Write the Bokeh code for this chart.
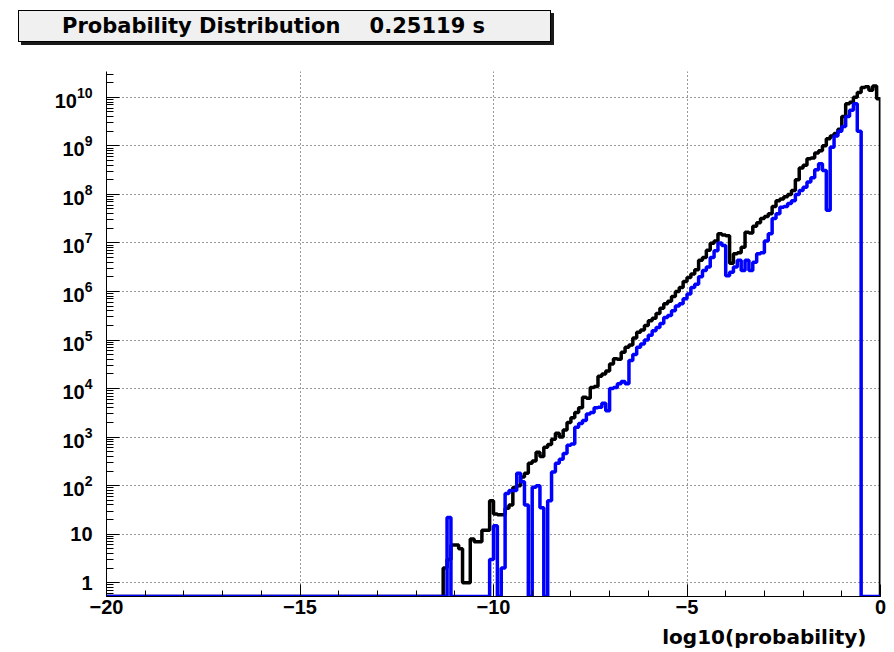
import numpy as np
from bokeh.plotting import figure
from bokeh.layouts import column
from bokeh.models import (Range1d, SingleIntervalTicker, FixedTicker, LogTickFormatter,
                          LinearAxis, Div)
from bokeh.embed import file_html
from bokeh.resources import INLINE

# ---------------- data ----------------
TITLE_MAIN = "Probability Distribution"
TITLE_TIME = "0.25119 s"
X_LABEL = "log10(probability)"

X_START = -20.0
BIN_WIDTH = 0.1
N_BINS = 200
Y_MIN = 0.52          # bottom of the log axis (empty bins drawn here)
Y_MAX = 3.4e10

# counts of the last bins (bins before these are empty)
black_counts = [
    2, 3, 6, 6, 5, 1, 1, 8, 7, 7, 12, 12, 49,
    26, 25, 25, 34, 40, 91, 100, 150, 180, 290,
    320, 490, 400, 620, 700, 900, 1200, 1000, 1400, 2000,
    2500, 3200, 4000, 6600, 6300, 1.05e4, 1.1e4, 1.8e4, 2.0e4, 2.3e4,
    3.2e4, 4.1e4, 4.0e4, 5.6e4, 7.1e4, 7.9e4, 1.1e5, 1.45e5, 1.6e5, 2.0e5,
    2.5e5, 2.8e5, 3.5e5, 4.5e5, 5.6e5, 6.3e5, 7.9e5, 1.0e6, 1.2e6, 1.6e6,
    1.95e6, 2.3e6, 2.8e6, 4.4e6, 5.0e6, 7.1e6, 9.8e6, 1.1e7, 1.55e7, 1.45e7,
    1.4e7, 3.8e6, 6.0e6, 6.3e6, 8.1e6, 1.65e7, 1.6e7, 2.2e7, 2.6e7, 3.2e7,
    3.5e7, 4.0e7, 5.6e7, 7.4e7, 8.0e7, 8.9e7, 1.0e8, 1.2e8, 2.0e8, 3.5e8,
    4.0e8, 5.4e8, 5.6e8, 7.1e8, 7.9e8, 1.0e9, 1.4e9, 1.6e9, 1.8e9, 2.2e9,
    4.0e9, 7.4e9, 7.9e9, 1.0e10, 1.25e10, 1.6e10, 1.65e10, 1.4e10, 1.7e10, 9.3e9,
]

blue_counts = [
    0, 22, 0, 0, 0, 0, 0, 0, 0, 0, 0, 0, 3,
    15, 0, 2, 69, 79, 79, 180, 120, 40, 0,
    93, 100, 35, 0, 49, 190, 290, 350, 460, 680,
    720, 1600, 1900, 2200, 3000, 3200, 4000, 4100, 5000, 3500,
    1.0e4, 1.05e4, 1.25e4, 1.4e4, 1.25e4, 3.8e4, 5.0e4, 7.1e4, 8.3e4, 1.0e5,
    1.25e5, 1.55e5, 1.8e5, 2.2e5, 2.9e5, 3.2e5, 4.0e5, 5.0e5, 5.6e5, 7.1e5,
    8.9e5, 1.2e6, 1.4e6, 2.0e6, 2.7e6, 3.2e6, 5.0e6, 6.9e6, 1.0e7, 8.9e6,
    2.1e6, 2.5e6, 3.2e6, 4.4e6, 2.7e6, 4.4e6, 2.7e6, 4.0e6, 6.0e6, 6.3e6,
    1.1e7, 1.55e7, 3.2e7, 4.0e7, 5.4e7, 5.6e7, 6.5e7, 7.4e7, 1.0e8, 1.2e8,
    1.4e8, 1.8e8, 2.2e8, 3.2e8, 4.3e8, 3.1e8, 4.7e7, 9.3e8, 1.6e9, 2.0e9,
    2.5e9, 4.0e9, 5.4e9, 7.4e9, 2.0e9, 0, 0, 0, 0, 0,
]

x_major = [-20, -15, -10, -5, 0]
y_decades = list(range(0, 11))
X_LABEL_AT = -3       # where the axis title sits along x (right-hand side, ROOT style)

# ---------------- helpers ----------------
edges = X_START + BIN_WIDTH * np.arange(N_BINS + 1)


def step_values(tail):
    full = [0] * (N_BINS - len(tail)) + list(tail)
    ys = [c if c > 0 else Y_MIN for c in full]
    return ys + [Y_MIN]


FONT = "DejaVu Sans"
TICK_FONT = "Liberation Sans"
W = 894
HEADER_H = 56

# ---------------- header (ROOT title pave with shadow) ----------------
header_html = (
    '<div style="position:absolute; left:18px; top:10px; width:533px; height:32px; '
    'box-sizing:border-box; border:1px solid black; background:#f0f0f0; '
    'box-shadow:3px 3px 0 #1a1a1a; font-family:\'DejaVu Sans\'; font-weight:bold; '
    'font-size:21px; line-height:30px; color:black; white-space:pre; padding-left:43px;">'
    + TITLE_MAIN + "    " + TITLE_TIME + "</div>"
)
header = Div(text=header_html, width=W, height=HEADER_H,
             styles={"position": "relative", "margin": "0", "padding": "0"})

# ---------------- main histogram plot ----------------
p = figure(width=W, height=652 - HEADER_H, y_axis_type="log",
           x_range=Range1d(x_major[0], x_major[-1]),
           y_range=Range1d(Y_MIN, Y_MAX),
           output_backend="svg", toolbar_location=None,
           min_border_left=106, min_border_right=14,
           min_border_top=15, min_border_bottom=56)
p.outline_line_color = None
p.background_fill_color = "white"
p.border_fill_color = "white"

p.step(edges, step_values(black_counts), mode="after",
       line_color="black", line_width=3.5)
p.step(edges, step_values(blue_counts), mode="after",
       line_color="#0000ff", line_width=3.5)

xt = SingleIntervalTicker(interval=5, num_minor_ticks=5)
p.xaxis.ticker = xt
yt = FixedTicker(ticks=[10.0 ** k for k in y_decades],
                 minor_ticks=[m * 10.0 ** k for k in range(-1, 11) for m in range(2, 10)])
p.yaxis.ticker = yt
p.yaxis.formatter = LogTickFormatter(min_exponent=2)

for ax in (p.xaxis[0], p.yaxis[0]):
    ax.axis_line_color = "black"
    ax.axis_line_width = 1
    ax.major_tick_line_color = "black"
    ax.minor_tick_line_color = "black"
    ax.major_tick_out = 0
    ax.minor_tick_out = 0
    ax.major_label_text_font = TICK_FONT
    ax.major_label_text_font_style = "bold"
    ax.major_label_text_font_size = "20px"
    ax.major_label_text_color = "black"

p.xaxis.major_tick_in = 12
p.xaxis.minor_tick_in = 6
p.xaxis.major_label_standoff = 3
p.yaxis.major_tick_in = 13
p.yaxis.minor_tick_in = 7
p.yaxis.major_label_standoff = 14

# axis title, right-aligned like ROOT: a label-only axis under the x axis
title_axis = LinearAxis(ticker=FixedTicker(ticks=[X_LABEL_AT]),
                        major_label_overrides={X_LABEL_AT: X_LABEL},
                        axis_line_color=None, major_tick_line_color=None,
                        minor_tick_line_color=None,
                        major_label_standoff=2,
                        major_label_text_font=FONT,
                        major_label_text_font_style="bold",
                        major_label_text_font_size="20px",
                        major_label_text_color="black")
p.add_layout(title_axis, "below")

p.xgrid.ticker = xt
p.ygrid.ticker = FixedTicker(ticks=[10.0 ** k for k in y_decades])
for g in (p.xgrid[0], p.ygrid[0]):
    g.grid_line_color = "#333333"
    g.grid_line_dash = "1 3"
    g.grid_line_width = 1

layout = column(header, p, spacing=0)
open("out.html", "w").write(file_html(layout, INLINE))
